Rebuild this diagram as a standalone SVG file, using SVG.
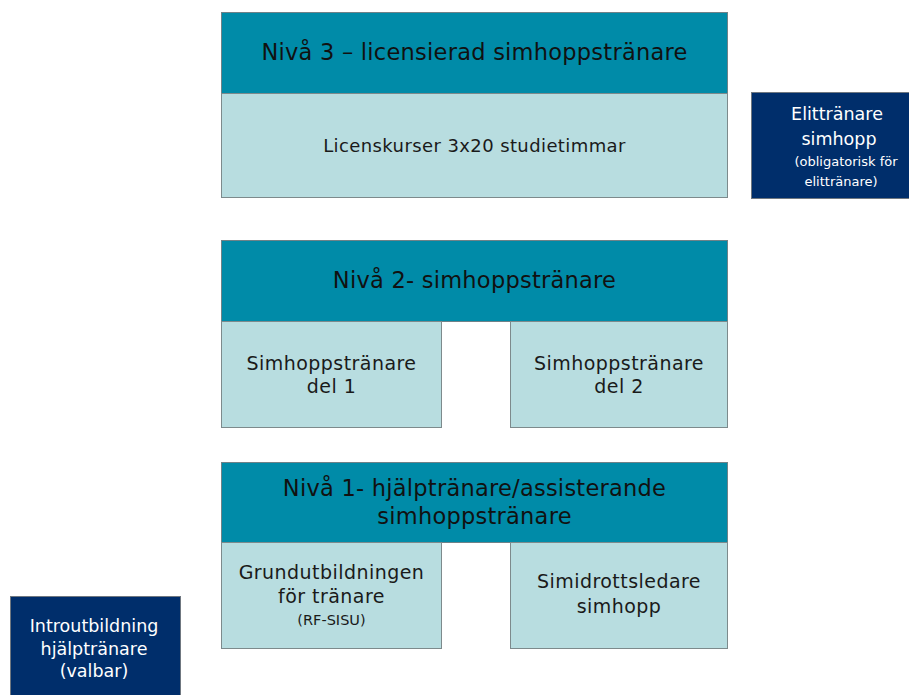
<svg xmlns="http://www.w3.org/2000/svg" width="909" height="695" viewBox="0 0 909 695">
<style>
.hdr{fill:#008BA8;stroke:#6f8288;stroke-width:1}
.body{fill:#B8DDE0;stroke:#7d8a8c;stroke-width:1}
.navy{fill:#002E6B;stroke:#6f7780;stroke-width:1}
text{font-family:"DejaVu Sans","Liberation Sans",Arial,sans-serif;text-anchor:middle}
.ht{font-size:22.5px;fill:#111;letter-spacing:0.25px}
.bt{font-size:18px;fill:#1a1a1a;letter-spacing:0.4px}
.bs{font-size:19px;fill:#1a1a1a;letter-spacing:0.45px}
.sm{font-size:14.5px;fill:#1a1a1a}
.wt{font-size:17.5px;fill:#fff}
.ws{font-size:13px;fill:#fff}
</style>
<rect width="909" height="695" fill="#fff"/>
<g id="niva3">
<rect class="hdr" x="221.5" y="12.5" width="506" height="81"/>
<text class="ht" x="474.5" y="60">Nivå 3 – licensierad simhoppstränare</text>
</g>
<g id="licenskurser">
<rect class="body" x="221.5" y="93.5" width="506" height="104"/>
<text class="bt" x="474.5" y="152">Licenskurser 3x20 studietimmar</text>
</g>
<g id="elittranare">
<rect class="navy" x="751.5" y="92.5" width="180" height="106"/>
<text class="wt" x="837" y="120">Elittränare</text>
<text class="wt" x="839" y="145">simhopp</text>
<text class="ws" x="846" y="166">(obligatorisk för</text>
<text class="ws" x="841" y="186">elittränare)</text>
</g>
<g id="niva2">
<rect class="hdr" x="221.5" y="240.5" width="506" height="81"/>
<text class="ht" x="474.5" y="288">Nivå 2- simhoppstränare</text>
</g>
<g id="del1">
<rect class="body" x="221.5" y="321.5" width="220" height="106"/>
<text class="bs" x="331.5" y="370">Simhoppstränare</text>
<text class="bs" x="331.5" y="393">del 1</text>
</g>
<g id="del2">
<rect class="body" x="510.5" y="321.5" width="217" height="106"/>
<text class="bs" x="619" y="370">Simhoppstränare</text>
<text class="bs" x="619" y="393">del 2</text>
</g>
<g id="niva1">
<rect class="hdr" x="221.5" y="462.5" width="506" height="80"/>
<text class="ht" x="474.5" y="496">Nivå 1- hjälptränare/assisterande</text>
<text class="ht" x="474.5" y="524">simhoppstränare</text>
</g>
<g id="grundutbildningen">
<rect class="body" x="221.5" y="542.5" width="220" height="106"/>
<text class="bs" x="331.5" y="579">Grundutbildningen</text>
<text class="bs" x="331.5" y="603">för tränare</text>
<text class="sm" x="331.5" y="625">(RF-SISU)</text>
</g>
<g id="simidrottsledare">
<rect class="body" x="510.5" y="542.5" width="217" height="106"/>
<text class="bs" x="619" y="588">Simidrottsledare</text>
<text class="bs" x="619" y="613">simhopp</text>
</g>
<g id="introutbildning">
<rect class="navy" x="10.5" y="596.5" width="170" height="110"/>
<text class="wt" x="94" y="632">Introutbildning</text>
<text class="wt" x="94" y="655">hjälptränare</text>
<text class="wt" x="94" y="677">(valbar)</text>
</g>
<g id="connectors"/>
</svg>
